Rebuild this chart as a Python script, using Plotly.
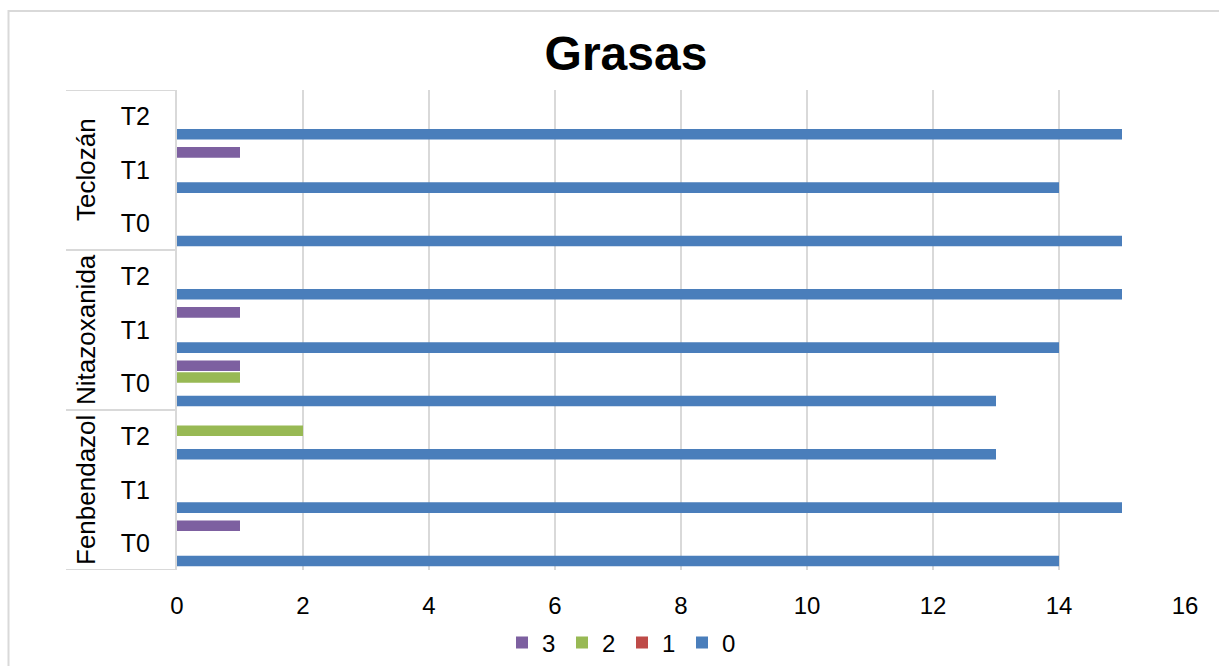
import plotly.graph_objects as go

groups = ["Fenbendazol", "Nitazoxanida", "Teclozán"]
subs = ["T0", "T1", "T2"]
series_names = ["0", "1", "2", "3"]
# values per category, order: Fenbendazol T0,T1,T2, Nitazoxanida T0,T1,T2, Teclozán T0,T1,T2
s0 = [14, 15, 13, 13, 14, 15, 15, 14, 15]
s1 = [0, 0, 0, 0, 0, 0, 0, 0, 0]
s2 = [0, 0, 2, 1, 0, 0, 0, 0, 0]
s3 = [1, 0, 0, 1, 1, 0, 0, 1, 0]
colors = ["#4A7EBB", "#BE4B48", "#98B954", "#7D60A0"]
x_ticks = [0, 2, 4, 6, 8, 10, 12, 14, 16]

FONT = "Liberation Sans, Arial, sans-serif"
n_cat = len(groups) * len(subs)
ypos = list(range(n_cat))
tick_text = [s for g in groups for s in subs]

fig = go.Figure()
for name, vals, col in zip(series_names, [s0, s1, s2, s3], colors):
    fig.add_trace(go.Bar(
        x=vals, y=ypos, orientation="h", name=name,
        marker=dict(color=col, line=dict(width=0)),
    ))

L, R, T, B = 177, 34, 90, 96
W, H = 1219, 666
pw, ph = W - L - R, H - T - B

def px_to_paper_x(px):
    return (px - L) / pw

def px_to_paper_y(py):
    return (H - B - py) / ph

shapes = []
# group dividers on the category axis
for k in range(len(groups) + 1):
    yv = k * len(subs) - 0.5
    shapes.append(dict(type="line", xref="paper", yref="y",
                       x0=px_to_paper_x(66), x1=0, y0=yv, y1=yv,
                       line=dict(color="#d9d9d9", width=2)))
# outer chart border
shapes.append(dict(type="rect", xref="paper", yref="paper",
                   x0=px_to_paper_x(8.5), x1=px_to_paper_x(1230),
                   y0=px_to_paper_y(680), y1=px_to_paper_y(11),
                   line=dict(color="#d9d9d9", width=2), layer="below"))

annotations = []
for gi, g in enumerate(groups):
    annotations.append(dict(
        text=g, xref="paper", yref="y",
        x=px_to_paper_x(86), y=gi * len(subs) + (len(subs) - 1) / 2,
        textangle=-90, showarrow=False,
        font=dict(family=FONT, size=26, color="#000000"),
        xanchor="center", yanchor="middle"))

fig.update_layout(
    width=W, height=H,
    margin=dict(l=L, r=R, t=T, b=B, autoexpand=False),
    paper_bgcolor="white", plot_bgcolor="white",
    title=dict(text="<b>Grasas</b>", x=626 / W, xref="container", xanchor="center",
               y=1 - 53 / H, yref="container", yanchor="middle",
               font=dict(family=FONT, size=48, color="#000000")),
    barmode="group", bargap=0.12, bargroupgap=0.1,
    showlegend=True,
    legend=dict(orientation="h", traceorder="reversed",
                x=622 / W, xanchor="center", xref="container",
                y=1 - 643 / H, yanchor="middle", yref="container",
                font=dict(family=FONT, size=24, color="#000000"),
                itemwidth=30, itemsizing="constant", tracegroupgap=0,
                entrywidth=15, entrywidthmode="pixels",
                bgcolor="rgba(0,0,0,0)"),
    xaxis=dict(range=[0, 16], tickvals=x_ticks, showgrid=True,
               gridcolor="#d9d9d9", gridwidth=2, zeroline=False,
               showline=False, ticks="outside", ticklen=14,
               tickcolor="rgba(0,0,0,0)", automargin=False,
               tickfont=dict(family=FONT, size=24, color="#000000")),
    yaxis=dict(range=[-0.5, n_cat - 0.5], tickvals=ypos, ticktext=tick_text,
               showgrid=False, zeroline=False, showline=True,
               linecolor="#d9d9d9", linewidth=2, automargin=False,
               ticks="outside", ticklen=20, tickcolor="rgba(0,0,0,0)",
               tickfont=dict(family=FONT, size=25, color="#000000")),
    shapes=shapes, annotations=annotations,
)

fig.write_html("out.html")
